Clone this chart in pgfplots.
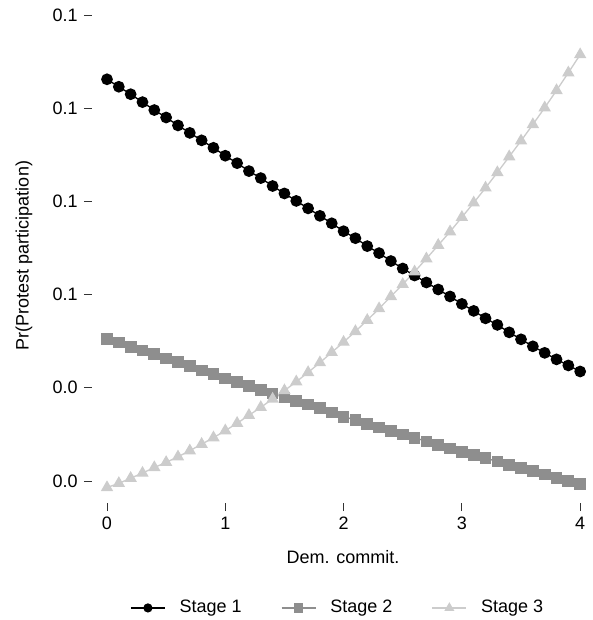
\documentclass[border=0pt]{standalone}
\usepackage{fontspec}
\setmainfont{Liberation Sans}
\usepackage{pgfplots}
\pgfplotsset{compat=1.18}
\definecolor{sgray}{HTML}{8E8E8E}
\definecolor{lgray}{HTML}{CCCCCC}
\begin{document}%
\fontsize{13.5pt}{16pt}\selectfont%
\begin{tikzpicture}
\path[use as bounding box] (-69pt,-87.75pt) rectangle (375pt,377.25pt);
\begin{axis}[
 at={(0pt,0pt)}, anchor=south west,
 scale only axis,
 width=375pt, height=371.25pt,
 xmin=-0.1268, xmax=4.10, ymin=0.01528, ymax=0.1215,
 axis x line*=bottom, axis y line*=left,
 axis line style={draw=none},
 tick align=outside, major tick length=6pt,
 tick style={color=black!80, line width=0.6pt},
 xtick={0,1,2,3,4},
 ytick={0.02,0.04,0.06,0.08,0.10,0.12},
 yticklabels={0.0,0.0,0.1,0.1,0.1,0.1},
 /pgf/number format/assume math mode=true,
 ticklabel style={font=\fontsize{13.5pt}{16pt}\selectfont},
 xlabel={Dem. commit.},
 ylabel={Pr(Protest participation)},
 xlabel style={at={(axis description cs:0.502,-0.109)}, anchor=center},
 ylabel style={at={(axis description cs:-0.136,0.5)}, anchor=center},
 legend style={at={(0.492,-0.212)}, anchor=center, draw=none, legend columns=3,
   /tikz/every odd column/.append style={column sep=8.5pt},
   /tikz/every even column/.append style={column sep=27.5pt}},
 legend image code/.code={\draw[mark repeat=2,mark phase=2,#1,every mark/.append style={scale=0.75}] plot coordinates {(0pt,0pt) (12.75pt,0pt) (25.5pt,0pt)};},
 clip=false,
]
\addplot[black, line width=1.0pt, mark=*, mark size=3.9pt, mark options={solid, fill=black, draw=black}] coordinates {
(0.0,0.1062) (0.1,0.1046) (0.2,0.1030) (0.3,0.1013) (0.4,0.0996) (0.5,0.0980)
(0.6,0.0963) (0.7,0.0947) (0.8,0.0931) (0.9,0.0915) (1.0,0.0898) (1.1,0.0882)
(1.2,0.0865) (1.3,0.0850) (1.4,0.0833) (1.5,0.0817) (1.6,0.0801) (1.7,0.0785)
(1.8,0.0769) (1.9,0.0753) (2.0,0.0736) (2.1,0.0721) (2.2,0.0704) (2.3,0.0689)
(2.4,0.0672) (2.5,0.0656) (2.6,0.0641) (2.7,0.0626) (2.8,0.0611) (2.9,0.0596)
(3.0,0.0580) (3.1,0.0565) (3.2,0.0549) (3.3,0.0535) (3.4,0.0519) (3.5,0.0504)
(3.6,0.0489) (3.7,0.0475) (3.8,0.0461) (3.9,0.0448) (4.0,0.0435)
};
\addlegendentry{Stage 1}
\addplot[sgray, line width=1.0pt, mark=square*, mark size=3.9pt, mark options={solid, fill=sgray, draw=sgray}] coordinates {
(0.0,0.0505) (0.1,0.0497) (0.2,0.0488) (0.3,0.0480) (0.4,0.0472) (0.5,0.0463)
(0.6,0.0455) (0.7,0.0446) (0.8,0.0437) (0.9,0.0429) (1.0,0.0420) (1.1,0.0412)
(1.2,0.0404) (1.3,0.0396) (1.4,0.0388) (1.5,0.0379) (1.6,0.0371) (1.7,0.0364)
(1.8,0.0356) (1.9,0.0347) (2.0,0.0338) (2.1,0.0331) (2.2,0.0323) (2.3,0.0315)
(2.4,0.0308) (2.5,0.0300) (2.6,0.0293) (2.7,0.0285) (2.8,0.0278) (2.9,0.0270)
(3.0,0.0263) (3.1,0.0256) (3.2,0.0249) (3.3,0.0242) (3.4,0.0235) (3.5,0.0228)
(3.6,0.0221) (3.7,0.0214) (3.8,0.0207) (3.9,0.0200) (4.0,0.0194)
};
\addlegendentry{Stage 2}
\addplot[lgray, line width=1.0pt, mark=triangle*, mark size=4.4pt, mark options={solid, fill=lgray, draw=lgray}] coordinates {
(0.0,0.0186) (0.1,0.0195) (0.2,0.0206) (0.3,0.0217) (0.4,0.0229) (0.5,0.0240)
(0.6,0.0252) (0.7,0.0265) (0.8,0.0279) (0.9,0.0293) (1.0,0.0308) (1.1,0.0324)
(1.2,0.0341) (1.3,0.0358) (1.4,0.0376) (1.5,0.0394) (1.6,0.0413) (1.7,0.0433)
(1.8,0.0454) (1.9,0.0476) (2.0,0.0498) (2.1,0.0521) (2.2,0.0545) (2.3,0.0570)
(2.4,0.0596) (2.5,0.0622) (2.6,0.0649) (2.7,0.0677) (2.8,0.0706) (2.9,0.0735)
(3.0,0.0766) (3.1,0.0797) (3.2,0.0829) (3.3,0.0862) (3.4,0.0896) (3.5,0.0930)
(3.6,0.0965) (3.7,0.1001) (3.8,0.1038) (3.9,0.1076) (4.0,0.1115)
};
\addlegendentry{Stage 3}
\end{axis}
\end{tikzpicture}%
\end{document}
